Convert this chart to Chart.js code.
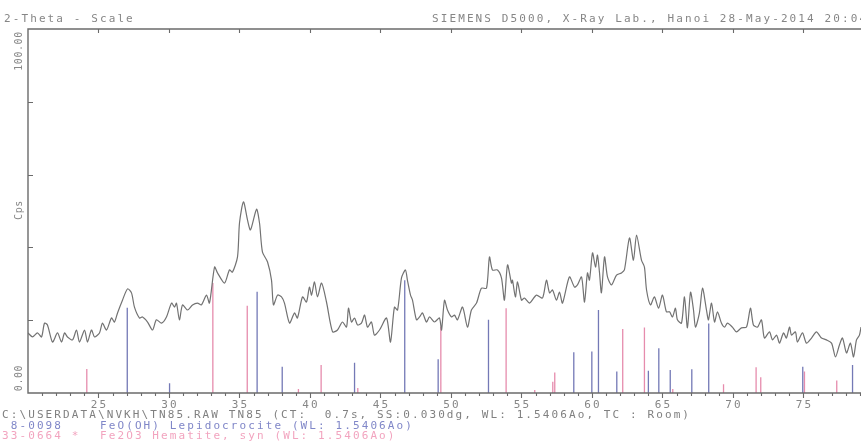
<!DOCTYPE html>
<html>
<head>
<meta charset="utf-8">
<script src="https://cdn.jsdelivr.net/npm/chart.js@4.4.1/dist/chart.umd.min.js"></script>
<style>
  html, body { margin: 0; padding: 0; background: #fff; }
</style>
</head>
<body>
<canvas id="xrdChart" width="861" height="441"></canvas>
<script>
// --- measured pattern TN85 (2-theta, Cps) ---
const twoTheta = [
  20.00, 20.32, 20.67, 20.96, 21.17, 21.38, 21.74, 22.09, 22.38, 22.59, 22.80, 23.16, 23.44, 23.65, 24.01, 24.22,
  24.50, 24.72, 25.07, 25.28, 25.57, 25.92, 26.13, 26.35, 26.70, 27.06, 27.34, 27.55, 27.91, 28.12, 28.48, 28.83,
  29.11, 29.47, 29.82, 30.18, 30.39, 30.53, 30.74, 30.96, 31.31, 31.67, 32.02, 32.30, 32.66, 32.87, 33.23, 33.44,
  33.94, 34.29, 34.50, 34.86, 35.00, 35.28, 35.57, 35.78, 36.21, 36.42, 36.63, 36.99, 37.27, 37.41, 37.70, 37.98,
  38.19, 38.55, 38.90, 39.11, 39.47, 39.75, 39.96, 40.11, 40.32, 40.53, 40.82, 41.17, 41.60, 41.95, 42.30, 42.59,
  42.73, 42.94, 43.16, 43.37, 43.65, 43.87, 44.08, 44.36, 44.57, 44.93, 45.43, 45.71, 45.99, 46.21, 46.49, 46.77,
  46.91, 47.13, 47.27, 47.55, 47.77, 47.98, 48.26, 48.48, 48.83, 49.18, 49.33, 49.54, 49.75, 50.04, 50.25, 50.46,
  50.82, 51.17, 51.45, 51.81, 52.16, 52.52, 52.73, 52.94, 53.30, 53.58, 53.79, 54.01, 54.29, 54.36, 54.57, 54.72,
  55.00, 55.21, 55.57, 56.06, 56.49, 56.77, 56.99, 57.20, 57.48, 57.70, 57.91, 58.40, 58.76, 58.97, 59.26, 59.47,
  59.68, 59.82, 60.04, 60.25, 60.39, 60.53, 60.67, 60.89, 61.10, 61.38, 61.74, 62.09, 62.30, 62.66, 62.94, 63.16,
  63.51, 63.72, 63.87, 64.15, 64.43, 64.72, 65.00, 65.28, 65.50, 65.71, 65.92, 66.06, 66.35, 66.56, 66.77, 66.99,
  67.20, 67.34, 67.62, 67.84, 68.12, 68.26, 68.48, 68.69, 68.90, 69.18, 69.40, 69.61, 69.96, 70.25, 70.60, 70.96,
  71.24, 71.45, 71.74, 72.02, 72.23, 72.59, 72.80, 73.09, 73.30, 73.58, 73.79, 74.01, 74.15, 74.43, 74.57, 74.93,
  75.21, 75.57, 75.92, 76.28, 76.63, 76.99, 77.27, 77.55, 77.77, 78.05, 78.33, 78.55, 78.76, 78.97, 79.08
];
const cps = [
  16.5, 15.4, 16.5, 15.4, 19.2, 18.7, 14.0, 16.5, 14.0, 16.5, 15.4, 14.6, 17.3, 14.0, 17.3, 14.0,
  17.3, 15.4, 16.5, 19.2, 17.3, 20.6, 19.5, 22.0, 25.5, 28.6, 27.5, 23.6, 20.6, 20.9, 19.5, 17.3,
  20.1, 19.2, 20.9, 24.7, 23.6, 24.7, 20.1, 24.2, 22.8, 24.2, 24.7, 24.2, 26.9, 24.7, 34.6, 33.0,
  30.2, 33.8, 33.2, 37.4, 46.7, 52.5, 47.5, 44.8, 50.5, 46.7, 38.7, 36.0, 31.0, 24.2, 26.9, 26.4,
  24.7, 19.2, 22.0, 20.6, 26.4, 25.0, 29.1, 26.9, 30.5, 26.4, 30.2, 25.0, 16.8, 17.3, 19.5, 18.1,
  23.3, 19.5, 20.6, 18.7, 19.2, 21.4, 18.1, 19.5, 15.9, 17.3, 20.6, 14.0, 23.6, 22.8, 31.6, 33.8,
  31.0, 26.9, 25.5, 20.1, 20.9, 22.0, 19.5, 20.9, 19.5, 20.6, 17.3, 25.5, 22.8, 20.9, 21.4, 20.1,
  23.6, 18.1, 22.8, 24.7, 28.8, 28.8, 37.4, 33.8, 33.8, 31.6, 25.5, 35.2, 30.2, 31.0, 26.4, 30.5,
  25.5, 26.1, 24.7, 26.9, 26.1, 31.0, 27.5, 28.3, 25.5, 27.7, 24.7, 31.9, 29.1, 29.7, 31.9, 25.0,
  33.0, 31.0, 38.5, 34.6, 37.9, 33.2, 27.5, 37.4, 31.9, 29.7, 32.4, 33.0, 33.8, 42.6, 36.5, 43.4,
  36.5, 34.6, 28.3, 24.2, 26.4, 23.3, 26.9, 22.3, 22.3, 20.9, 23.3, 20.1, 19.2, 26.4, 17.9, 27.7,
  22.8, 18.1, 22.0, 28.8, 22.8, 20.1, 24.7, 19.5, 22.3, 19.2, 18.1, 19.2, 18.1, 16.8, 17.9, 18.1,
  23.3, 18.7, 18.1, 20.1, 15.1, 16.8, 14.6, 15.9, 13.7, 16.5, 15.1, 18.1, 15.9, 16.8, 14.0, 16.5,
  13.7, 15.1, 16.8, 15.1, 14.6, 13.7, 9.9, 13.2, 15.1, 11.0, 13.7, 9.9, 14.6, 15.9, 18.1
];

// --- reference cards (stick patterns) ---
// 8-0098 FeO(OH) Lepidocrocite
const lepiPos = [27.04, 30.04, 36.25, 38.03, 43.16, 46.72, 49.09, 52.66, 58.71, 59.99, 60.46, 61.76, 64.00, 64.74, 65.55, 67.08, 68.28, 74.95, 78.48];
const lepiInt = [23.4, 2.7, 27.8, 7.2, 8.3, 31.0, 9.3, 20.1, 11.2, 11.4, 22.8, 5.9, 6.1, 12.3, 6.3, 6.5, 19.1, 7.2, 7.7];
// 33-0664 Fe2O3 Hematite, syn
const hemaPos = [24.17, 33.11, 35.55, 39.18, 40.79, 43.39, 49.28, 53.91, 55.94, 57.22, 57.36, 62.18, 63.72, 65.73, 69.33, 71.64, 71.97, 75.07, 77.36];
const hemaInt = [6.6, 30.2, 24.0, 1.1, 7.7, 1.4, 18.2, 23.3, 0.8, 3.1, 5.6, 17.6, 18.0, 1.1, 2.4, 7.1, 4.3, 5.9, 3.4];

// axes
const xMin = 20, xMax = 79.08;
const xLabels = [25, 30, 35, 40, 45, 50, 55, 60, 65, 70, 75];
const yTicks = [20, 40, 60, 80];

const headerLeft = '2-Theta - Scale';
const headerRight = 'SIEMENS D5000, X-Ray Lab., Hanoi 28-May-2014 20:04';
const footer = [
  { text: 'C:\\USERDATA\\NVKH\\TN85.RAW TN85 (CT:  0.7s, SS:0.030dg, WL: 1.5406Ao, TC : Room)', color: '#808080' },
  { text: ' 8-0098', tail: 'FeO(OH) Lepidocrocite (WL: 1.5406Ao)', color: '#8087c8' },
  { text: '33-0664 *', tail: 'Fe2O3 Hematite, syn (WL: 1.5406Ao)', color: '#f2a4bf' }
];

// a stick = vertical segment from 0 to its intensity, null breaks the line between sticks
function sticks(pos, inten) {
  const pts = [];
  pos.forEach((p, i) => {
    pts.push({ x: p, y: 0 }, { x: p, y: inten[i] }, { x: p, y: null });
  });
  return pts;
}

const FONT = '11px "DejaVu Sans Mono", monospace';

const framePlugin = {
  id: 'xrdFrame',
  afterDraw(chart) {
    const { ctx, chartArea: a, scales: { x, y } } = chart;
    ctx.save();

    // frame (left, top, bottom; the right side is cut off)
    ctx.strokeStyle = '#6b6b6b';
    ctx.lineWidth = 1.4;
    ctx.beginPath();
    ctx.moveTo(a.right, a.top);
    ctx.lineTo(a.left, a.top);
    ctx.lineTo(a.left, a.bottom);
    ctx.lineTo(a.right, a.bottom);
    ctx.stroke();

    ctx.lineWidth = 1.1;
    ctx.beginPath();
    yTicks.forEach(v => {
      const py = Math.round(y.getPixelForValue(v)) + 0.5;
      ctx.moveTo(a.left, py);
      ctx.lineTo(a.left + 5, py);
    });
    for (let v = 21; v <= 79; v++) {
      const px = Math.round(x.getPixelForValue(v)) + 0.5;
      const major = v % 5 === 0;
      ctx.moveTo(px, a.bottom);
      ctx.lineTo(px, a.bottom + (major ? 5 : 3));
      if (major) {
        ctx.moveTo(px, a.top);
        ctx.lineTo(px, a.top + 4);
      }
    }
    ctx.stroke();

    // texts
    ctx.font = FONT;
    ctx.letterSpacing = '2.1px';
    ctx.textBaseline = 'alphabetic';
    ctx.fillStyle = '#868686';
    ctx.textAlign = 'left';
    ctx.fillText(headerLeft, 4, 22);
    ctx.fillText(headerRight, 432, 22);

    ctx.textAlign = 'center';
    xLabels.forEach(v => {
      ctx.fillText(String(v), x.getPixelForValue(v) + 1, 408);
    });

    ctx.textAlign = 'left';
    footer.forEach((f, i) => {
      ctx.fillStyle = f.color;
      ctx.fillText(f.text, 2, 418 + i * 10.5);
      if (f.tail) ctx.fillText(f.tail, 100, 418 + i * 10.5);
    });

    // rotated y labels
    ctx.font = '10px "DejaVu Sans Mono", monospace';
    ctx.letterSpacing = '0.6px';
    ctx.fillStyle = '#888888';
    const vLabel = (txt, py) => {
      ctx.save();
      ctx.translate(19, py);
      ctx.rotate(-Math.PI / 2);
      ctx.textAlign = 'center';
      ctx.textBaseline = 'middle';
      ctx.fillText(txt, 0, 0);
      ctx.restore();
    };
    vLabel('100.00', y.getPixelForValue(100) + 22);
    vLabel('0.00', y.getPixelForValue(0) - 15);
    vLabel('Cps', 210);

    ctx.restore();
  }
};

new Chart(document.getElementById('xrdChart'), {
  type: 'line',
  data: {
    datasets: [
      {
        label: 'TN85',
        data: twoTheta.map((t, i) => ({ x: t, y: cps[i] })),
        borderColor: '#727272',
        borderWidth: 1.2,
        pointRadius: 0,
        tension: 0.25
      },
      {
        label: '8-0098 FeO(OH) Lepidocrocite',
        data: sticks(lepiPos, lepiInt),
        borderColor: '#7479b6',
        borderWidth: 1.3,
        pointRadius: 0,
        spanGaps: false
      },
      {
        label: '33-0664 Fe2O3 Hematite, syn',
        data: sticks(hemaPos, hemaInt),
        borderColor: '#e68cad',
        borderWidth: 1.3,
        pointRadius: 0,
        spanGaps: false
      }
    ]
  },
  options: {
    responsive: false,
    animation: false,
    layout: { padding: { left: 28, top: 29, right: 0, bottom: 48 } },
    plugins: { legend: { display: false }, tooltip: { enabled: false } },
    scales: {
      x: { type: 'linear', min: xMin, max: xMax, display: false },
      y: { min: 0, max: 100, display: false }
    }
  },
  plugins: [framePlugin]
});
</script>
</body>
</html>
